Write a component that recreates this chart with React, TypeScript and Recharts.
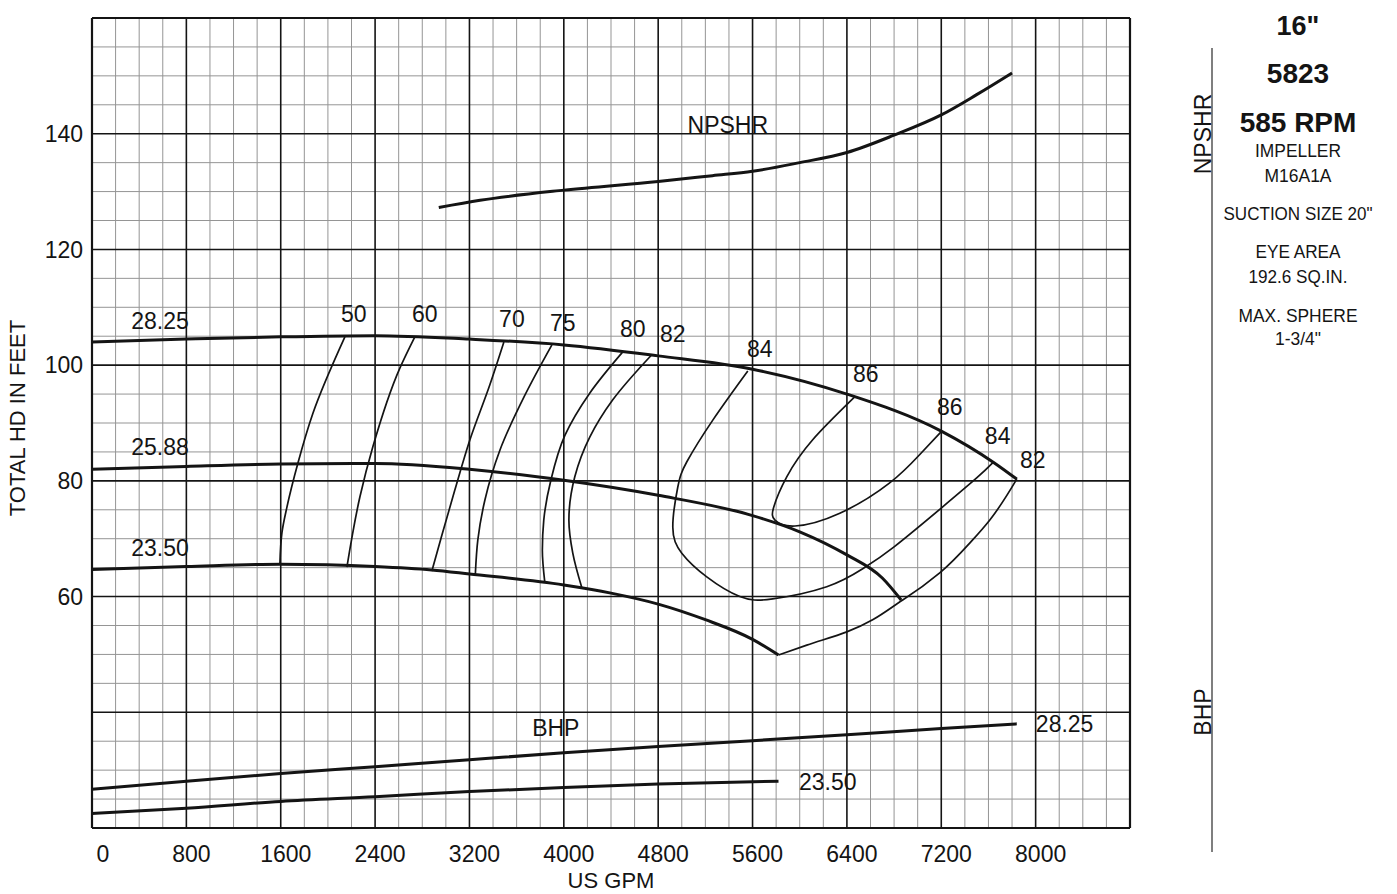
import React from 'react';
import { LineChart, Line, XAxis, YAxis, ReferenceLine, ReferenceDot } from 'recharts';

const FONT = '"Liberation Sans", Arial, Helvetica, sans-serif';
const INK = '#141414';

// axis ticks
const gpmTicks = [0, 800, 1600, 2400, 3200, 4000, 4800, 5600, 6400, 7200, 8000];
const headTicks = [60, 80, 100, 120, 140];
const npshTicks = [4, 8, 12];
const bhpTicks = [0, 200, 400];

// head-capacity curves per impeller dia (q = US GPM, h = ft)
const head2825 = [
  { q: 0, h: 104.0 }, { q: 800, h: 104.5 }, { q: 1600, h: 104.9 }, { q: 2400, h: 105.1 },
  { q: 3200, h: 104.5 }, { q: 4000, h: 103.5 }, { q: 4800, h: 101.6 }, { q: 5600, h: 99.3 },
  { q: 6400, h: 95.0 }, { q: 7200, h: 88.6 }, { q: 7650, h: 83.1 }, { q: 7840, h: 80.3 },
];
const head2588 = [
  { q: 0, h: 82.0 }, { q: 800, h: 82.5 }, { q: 1600, h: 82.9 }, { q: 2400, h: 83.0 },
  { q: 3200, h: 82.0 }, { q: 4000, h: 80.1 }, { q: 4800, h: 77.5 }, { q: 5600, h: 74.0 },
  { q: 6000, h: 71.2 }, { q: 6400, h: 67.2 }, { q: 6700, h: 63.2 }, { q: 6860, h: 59.4 },
];
const head2350 = [
  { q: 0, h: 64.7 }, { q: 800, h: 65.2 }, { q: 1600, h: 65.6 }, { q: 2400, h: 65.2 },
  { q: 2880, h: 64.6 }, { q: 3200, h: 63.9 }, { q: 4000, h: 62.0 }, { q: 4400, h: 60.6 },
  { q: 4800, h: 58.7 }, { q: 5200, h: 56.0 }, { q: 5600, h: 52.6 }, { q: 5820, h: 49.9 },
];

// efficiency contours (%)
const eff50 = [
  { q: 2144, h: 104.9 }, { q: 1873, h: 91.7 }, { q: 1746, h: 83.1 }, { q: 1653, h: 75.5 },
  { q: 1610, h: 71.0 }, { q: 1593, h: 65.6 },
];
const eff60 = [
  { q: 2737, h: 104.9 }, { q: 2610, h: 99.5 }, { q: 2381, h: 85.9 }, { q: 2271, h: 77.2 },
  { q: 2161, h: 65.1 },
];
const eff70 = [
  { q: 3492, h: 104.0 }, { q: 3373, h: 96.6 }, { q: 3204, h: 87.1 }, { q: 3076, h: 78.4 },
  { q: 2966, h: 70.6 }, { q: 2881, h: 64.4 },
];
const eff75 = [
  { q: 3899, h: 103.5 }, { q: 3670, h: 94.8 }, { q: 3458, h: 85.3 }, { q: 3331, h: 76.7 },
  { q: 3271, h: 69.8 }, { q: 3250, h: 63.9 },
];
const eff80 = [
  { q: 4500, h: 102.3 }, { q: 4221, h: 95.2 }, { q: 4010, h: 87.9 }, { q: 3890, h: 80.1 },
  { q: 3830, h: 73.2 }, { q: 3818, h: 68.0 }, { q: 3839, h: 62.4 },
];
const eff82a = [
  { q: 4746, h: 101.8 }, { q: 4415, h: 94.0 }, { q: 4221, h: 87.6 }, { q: 4093, h: 80.7 },
  { q: 4043, h: 73.2 }, { q: 4076, h: 67.5 }, { q: 4153, h: 61.5 },
];
const eff84 = [
  { q: 5560, h: 99.0 }, { q: 5263, h: 90.5 }, { q: 5043, h: 83.3 }, { q: 4966, h: 78.9 },
  { q: 4924, h: 72.0 }, { q: 5000, h: 67.5 }, { q: 5212, h: 63.4 }, { q: 5492, h: 60.0 },
  { q: 5771, h: 59.6 }, { q: 6229, h: 61.7 }, { q: 6534, h: 64.8 }, { q: 6800, h: 68.6 },
  { q: 7200, h: 75.3 }, { q: 7500, h: 80.5 }, { q: 7640, h: 83.2 },
];
const eff86 = [
  { q: 6466, h: 94.5 }, { q: 6110, h: 87.1 }, { q: 5890, h: 80.7 }, { q: 5780, h: 75.5 },
  { q: 5790, h: 73.2 }, { q: 5960, h: 72.2 }, { q: 6340, h: 74.4 }, { q: 6760, h: 79.6 },
  { q: 7020, h: 84.6 }, { q: 7204, h: 88.6 },
];
const eff82b = [
  { q: 7840, h: 80.3 }, { q: 7610, h: 73.2 }, { q: 7466, h: 69.8 }, { q: 7187, h: 64.1 },
  { q: 6873, h: 59.4 }, { q: 6399, h: 53.9 }, { q: 6060, h: 51.6 }, { q: 5820, h: 49.9 },
];

// NPSHR (ft) and BHP curves
const npshr = [
  { q: 2940, n: 5.45 }, { q: 3290, n: 5.7 }, { q: 4000, n: 6.05 }, { q: 4800, n: 6.35 },
  { q: 5260, n: 6.55 }, { q: 5600, n: 6.7 }, { q: 6000, n: 7.0 }, { q: 6400, n: 7.35 },
  { q: 6800, n: 7.95 }, { q: 7200, n: 8.65 }, { q: 7500, n: 9.35 }, { q: 7800, n: 10.1 },
];
const bhp2825 = [
  { q: 0, b: 67 }, { q: 800, b: 81 }, { q: 1600, b: 94 }, { q: 2400, b: 106 },
  { q: 3200, b: 118 }, { q: 4000, b: 130 }, { q: 4800, b: 141 }, { q: 5600, b: 151 },
  { q: 6400, b: 161 }, { q: 7200, b: 172 }, { q: 7840, b: 180 },
];
const bhp2350 = [
  { q: 0, b: 25 }, { q: 800, b: 34 }, { q: 1600, b: 46 }, { q: 2400, b: 54 },
  { q: 3200, b: 63 }, { q: 4000, b: 70 }, { q: 4800, b: 76 }, { q: 5820, b: 81 },
];

// text annotations, placed in (GPM, ft) units
const notes = [
  { q: 576, h: 107.6, text: '28.25' }, { q: 576, h: 85.9, text: '25.88' }, { q: 576, h: 68.4, text: '23.50' },
  { q: 2220, h: 108.8, text: '50' }, { q: 2822, h: 108.8, text: '60' }, { q: 3560, h: 108.0, text: '70' },
  { q: 3992, h: 107.3, text: '75' }, { q: 4585, h: 106.2, text: '80' }, { q: 4924, h: 105.4, text: '82' },
  { q: 5661, h: 102.8, text: '84' }, { q: 6560, h: 98.5, text: '86' }, { q: 7272, h: 92.8, text: '86' },
  { q: 7678, h: 87.8, text: '84' }, { q: 7975, h: 83.6, text: '82' },
  { q: 5390, h: 141.5, text: 'NPSHR' }, { q: 3932, h: 37.3, text: 'BHP' },
  { q: 8246, h: 38.0, text: '28.25' }, { q: 6238, h: 28.0, text: '23.50' },
];

const panel = [
  { text: '16"', y: 35, size: 27, bold: true },
  { text: '5823', y: 83, size: 28, bold: true },
  { text: '585 RPM', y: 132, size: 28, bold: true },
  { text: 'IMPELLER', y: 157, size: 19, len: 86 },
  { text: 'M16A1A', y: 182, size: 19, len: 67 },
  { text: 'SUCTION SIZE 20"', y: 220, size: 19, len: 149 },
  { text: 'EYE AREA', y: 258, size: 19, len: 85 },
  { text: '192.6 SQ.IN.', y: 283, size: 19, len: 99 },
  { text: 'MAX. SPHERE', y: 322, size: 19, len: 119 },
  { text: '1-3/4"', y: 345, size: 19, len: 46 },
];

const majorQ = Array.from({ length: 12 }, (_, i) => i * 800);
const minorQ = Array.from({ length: 45 }, (_, i) => i * 200).filter(v => v % 800 !== 0);
const majorH = Array.from({ length: 8 }, (_, i) => 20 + i * 20);
const minorH = Array.from({ length: 29 }, (_, i) => 20 + i * 5).filter(v => v % 20 !== 0);

function GpmTick({ x, y, payload }: any) {
  const shift = payload.value === 0 ? 11 : 5;
  return (
    <text x={x + shift} y={y} dy="0.71em" textAnchor="middle" fontSize={23} fill={INK} fontFamily={FONT}>
      {payload.value}
    </text>
  );
}

const monoY = [eff50, eff60, eff70, eff75, eff80, eff82a, eff82b];
const loops = [eff84, eff86];
const headSeries = [head2825, head2588, head2350];

export default function App() {
  const tickStyle = { fontSize: 23, fill: INK, fontFamily: FONT };
  return (
    <div style={{ position: 'absolute', left: 0, top: 0, width: 1397, height: 894, background: '#fff', fontFamily: FONT }}>
      <LineChart width={1397} height={894} margin={{ top: 18, right: 267, bottom: 26, left: 0 }}>
        <XAxis
          dataKey="q" type="number" domain={[0, 8800]} ticks={gpmTicks} allowDataOverflow
          axisLine={false} tickLine={false} tickMargin={12} height={40} tick={<GpmTick />}
        />
        <YAxis
          yAxisId="ft" type="number" domain={[20, 160]} ticks={headTicks} allowDataOverflow
          axisLine={false} tickLine={false} tickMargin={3} width={92} tick={tickStyle}
        />
        <YAxis
          yAxisId="npsh" orientation="right" type="number" domain={[-16, 12]} ticks={npshTicks} allowDataOverflow
          axisLine={false} tickLine={false} width={0} tick={{ ...tickStyle, textAnchor: 'start' }}
        />
        <YAxis
          yAxisId="bhp" orientation="right" type="number" domain={[0, 1400]} ticks={bhpTicks} allowDataOverflow
          axisLine={false} tickLine={false} width={0} tick={{ ...tickStyle, textAnchor: 'start' }}
        />

        {minorQ.map(v => (
          <ReferenceLine key={'mq' + v} yAxisId="ft" x={v} stroke="#959595" strokeWidth={1} />
        ))}
        {minorH.map(v => (
          <ReferenceLine key={'mh' + v} yAxisId="ft" y={v} stroke="#959595" strokeWidth={1} />
        ))}
        {majorQ.map(v => (
          <ReferenceLine key={'Mq' + v} yAxisId="ft" x={v} stroke={INK}
            strokeWidth={v === 0 || v === 8800 ? 2.2 : 1.6} />
        ))}
        {majorH.map(v => (
          <ReferenceLine key={'Mh' + v} yAxisId="ft" y={v} stroke={INK}
            strokeWidth={v === 20 || v === 160 ? 2.2 : 1.6} />
        ))}

        {monoY.map((d, i) => (
          <Line key={'e' + i} yAxisId="ft" data={d} dataKey="h" type="monotoneY" stroke={INK}
            strokeWidth={1.7} dot={false} activeDot={false} isAnimationActive={false} />
        ))}
        {loops.map((d, i) => (
          <Line key={'l' + i} yAxisId="ft" data={d} dataKey="h" type="natural" stroke={INK}
            strokeWidth={1.7} dot={false} activeDot={false} isAnimationActive={false} />
        ))}
        {headSeries.map((d, i) => (
          <Line key={'h' + i} yAxisId="ft" data={d} dataKey="h" type="monotone" stroke={INK}
            strokeWidth={3} dot={false} activeDot={false} isAnimationActive={false} />
        ))}
        <Line yAxisId="npsh" data={npshr} dataKey="n" type="monotone" stroke={INK}
          strokeWidth={3} dot={false} activeDot={false} isAnimationActive={false} />
        <Line yAxisId="bhp" data={bhp2825} dataKey="b" type="monotone" stroke={INK}
          strokeWidth={3} dot={false} activeDot={false} isAnimationActive={false} />
        <Line yAxisId="bhp" data={bhp2350} dataKey="b" type="monotone" stroke={INK}
          strokeWidth={3} dot={false} activeDot={false} isAnimationActive={false} />

        {notes.map((n, i) => (
          <ReferenceDot key={'n' + i} yAxisId="ft" x={n.q} y={n.h} r={0} fill="none" stroke="none"
            label={{ value: n.text, position: 'center', fontSize: 23, fill: INK, fontFamily: FONT }} />
        ))}
      </LineChart>

      <svg width={1397} height={894} style={{ position: 'absolute', left: 0, top: 0, pointerEvents: 'none' }}>
        <text transform="translate(25 418) rotate(-90)" textAnchor="middle" fontSize={22} fill={INK} fontFamily={FONT}>
          TOTAL HD IN FEET
        </text>
        <text x={611} y={888} textAnchor="middle" fontSize={22} fill={INK} fontFamily={FONT}>US GPM</text>
        <line x1={1212} y1={48} x2={1212} y2={852} stroke="#555" strokeWidth={1.5} />
        <text transform="translate(1211 134) rotate(-90)" textAnchor="middle" fontSize={23} fill={INK} fontFamily={FONT}>
          NPSHR
        </text>
        <text transform="translate(1211 712) rotate(-90)" textAnchor="middle" fontSize={23} fill={INK} fontFamily={FONT}>
          BHP
        </text>
        {panel.map((p, i) => (
          <text key={i} x={1298} y={p.y} textAnchor="middle" fontSize={p.size} fontWeight={p.bold ? 700 : 400}
            fill={INK} fontFamily={FONT}
            {...(p.len ? { textLength: p.len, lengthAdjust: 'spacingAndGlyphs' } : {})}>
            {p.text}
          </text>
        ))}
      </svg>
    </div>
  );
}
